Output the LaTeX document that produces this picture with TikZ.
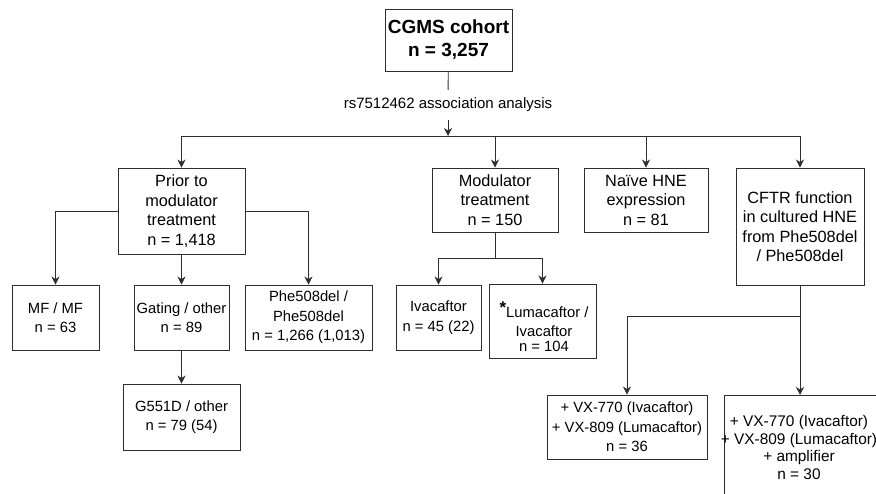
\documentclass[tikz,border=0pt]{standalone}
\usepackage{fontspec}
\setmainfont{Liberation Sans}
\usetikzlibrary{arrows.meta}
\definecolor{linec}{HTML}{2E2E2E}
\begin{document}
\begin{tikzpicture}[x=1bp,y=-1bp,
  box/.style={draw=linec, line width=0.9bp, align=center, inner sep=0pt,
    font=\fontsize{16.3bp}{19.5bp}\selectfont},
  lowbox/.style={box, font=\fontsize{14.8bp}{19.5bp}\selectfont},
  conn/.style={draw=linec, line width=0.9bp},
  arr/.style={conn, -{Stealth[length=8bp,width=8bp,inset=2.5bp]}}]
\useasboundingbox (0,0) rectangle (876,494);
\clip (0,0) rectangle (876,494);
% top
\node[box, minimum width=127bp, minimum height=62bp,
  font=\fontsize{19bp}{23bp}\selectfont\bfseries] (cgms) at (448.5,40) {CGMS cohort\\ n = 3,257};
\node[inner sep=0pt, minimum height=30bp, font=\fontsize{15bp}{18bp}\selectfont] (lab) at (448,105) {rs7512462 association analysis};
% upper row
\node[box, minimum width=127bp, minimum height=86bp] (prior) at (181.5,211) {Prior to\\ modulator\\ treatment\\ n = 1,418};
\node[box, minimum width=126bp, minimum height=64bp] (mod) at (495,200) {Modulator\\ treatment\\ n = 150};
\node[box, minimum width=124bp, minimum height=64bp] (naive) at (646,200) {Naïve HNE\\ expression\\ n = 81};
\node[box, minimum width=128bp, minimum height=117bp] (cftr) at (800,226.5) {CFTR function\\ in cultured HNE\\ from Phe508del\\ / Phe508del};
% lower row
\node[lowbox, minimum width=87bp, minimum height=65bp] (mf) at (55.5,317.5) {MF / MF\\ n = 63};
\node[lowbox, minimum width=95bp, minimum height=65bp] (gating) at (181.5,317.5) {Gating / other\\ n = 89};
\node[lowbox, minimum width=127bp, minimum height=65bp] (phe) at (308.5,317.5) {Phe508del /\\ Phe508del\\ n = 1,266 (1,013)};
\node[lowbox, minimum width=117bp, minimum height=66bp] (g551) at (181.5,417) {G551D / other\\ n = 79 (54)};
\node[lowbox, minimum width=85bp, minimum height=65bp] (iva) at (438.5,317.5) {Ivacaftor\\ n = 45 (22)};
\node[lowbox, minimum width=107bp, minimum height=74bp] (luma) at (542.5,321) {};
\node[align=center, inner sep=0pt, font=\fontsize{14.8bp}{19bp}\selectfont] (lumat) at (544,327) {\raisebox{4bp}{\fontsize{17bp}{17bp}\selectfont\bfseries *}Lumacaftor /\\ Ivacaftor\\[-4bp] n = 104};
\node[lowbox, minimum width=160bp, minimum height=64bp] (b5) at (627,427) {+ VX-770 (Ivacaftor)\\ + VX-809 (Lumacaftor)\\ n = 36};
\node[draw=linec, line width=0.9bp, anchor=north west, inner sep=0pt, minimum width=180bp, minimum height=130bp] (b6box) at (724,395) {};
\node[align=center, inner sep=0pt, font=\fontsize{15.4bp}{17.6bp}\selectfont] (b6) at (799,447.5) {+ VX-770 (Ivacaftor)\\ + VX-809 (Lumacaftor)\\ + amplifier\\ n = 30};
% connectors
\coordinate (j0) at (448,136);
\coordinate (jl) at (181.5,136);
\coordinate (jm) at (495,136);
\coordinate (jn) at (646,136);
\coordinate (jr) at (800,136);
\draw[conn] (cgms) -- (lab);
\draw[arr] (lab) -- (j0);
\draw[conn] (jl) -- (jr);
\draw[arr] (jl) -- (prior);
\draw[arr] (jm) -- (mod);
\draw[arr] (jn) -- (naive);
\draw[arr] (jr) -- (cftr);
\draw[arr] (prior.west) -| (mf.north);
\draw[arr] (prior.east) -| (phe.north);
\draw[arr] (prior) -- (gating);
\draw[arr] (gating) -- (g551);
\coordinate (mj) at (495,258);
\draw[conn] (mod) -- (mj);
\draw[arr] (mj) -| (iva.north);
\draw[arr] (mj) -| (luma.north);
\coordinate (cj) at (800,316);
\draw[conn] (cftr) -- (cj);
\draw[arr] (cj) -| (b5.north);
\draw[arr] (cj) -- (cj |- b6box.north);
\end{tikzpicture}
\end{document}
